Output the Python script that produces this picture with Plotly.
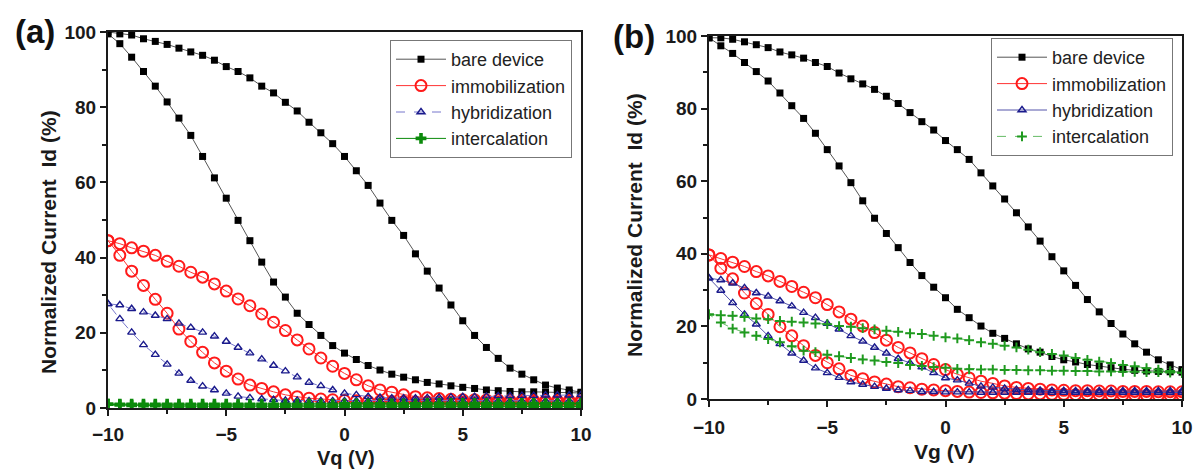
import plotly.graph_objects as go

# ---------------- data ----------------
vg = [-10 + 0.5 * i for i in range(41)]

series_names = ["bare device", "immobilization", "hybridization", "intercalation"]

# Panel (a): upper (one sweep) and lower (other sweep) branches, values in %
a_bare_up = [100, 99.5, 99.2, 98.2, 97.5, 96.7, 95.7, 94.7, 93.8, 92.5, 90.8, 89.5, 87.8,
             85.6, 83.8, 81.3, 79.0, 76.0, 73.2, 70.3, 66.9, 63.1, 59.2, 54.5, 49.9, 45.9,
             41.0, 36.4, 31.9, 27.4, 23.2, 19.3, 16.1, 13.2, 10.6, 9.0, 7.5, 6.1, 5.3, 4.8, 4.2]
a_bare_lo = [99.5, 96.9, 93.3, 89.5, 85.6, 81.4, 77.1, 72.5, 66.9, 61.2, 55.8, 49.9, 44.5,
             38.8, 33.5, 29.5, 25.2, 22.2, 19.3, 16.6, 14.6, 12.9, 11.3, 10.1, 9.0, 8.2,
             7.5, 6.8, 6.4, 5.9, 5.5, 5.2, 4.8, 4.6, 4.4, 4.3, 4.3, 4.2, 4.1, 4.1, 4.0]
a_imm_up = [44.5, 43.7, 42.6, 41.7, 40.6, 39.0, 37.7, 36.1, 34.8, 33.0, 31.1, 29.0, 27.2,
            25.0, 22.8, 20.6, 18.1, 15.7, 13.3, 11.1, 9.2, 7.5, 5.9, 4.8, 4.2, 3.5,
            3.0, 2.7, 2.5, 2.3, 2.2, 2.2, 2.1, 2.1, 2.0, 2.0, 2.0, 2.0, 2.0, 2.0, 2.0]
a_imm_lo = [44.5, 40.6, 36.4, 32.6, 28.9, 25.2, 21.0, 17.7, 14.8, 12.0, 9.8, 7.7, 6.1,
            5.2, 4.3, 3.5, 3.0, 2.6, 2.4, 2.2, 2.0, 1.9, 1.8, 1.8, 1.7, 1.7,
            1.6, 1.6, 1.6, 1.5, 1.5, 1.5, 1.5, 1.5, 1.5, 1.5, 1.5, 1.5, 1.5, 1.5, 1.5]
a_hyb_up = [27.7, 27.4, 26.4, 25.5, 24.6, 23.7, 22.5, 21.4, 20.1, 19.1, 17.7, 16.1, 14.6,
            13.0, 11.3, 9.8, 8.2, 6.8, 5.9, 4.8, 3.9, 3.5, 3.0, 2.8, 2.6, 2.6,
            2.6, 2.7, 2.8, 2.9, 3.0, 3.0, 3.1, 3.2, 3.2, 3.3, 3.3, 3.4, 3.4, 3.4, 3.5]
a_hyb_lo = [27.7, 23.7, 20.1, 16.8, 14.2, 11.6, 9.2, 7.3, 5.8, 4.8, 3.9, 3.1, 2.7,
            2.4, 2.2, 2.0, 2.0, 1.9, 1.9, 1.9, 1.9, 1.9, 1.9, 1.9, 1.9, 1.9,
            1.9, 1.9, 1.9, 1.9, 1.9, 1.9, 1.9, 1.9, 1.9, 1.9, 1.9, 1.9, 1.9, 1.9, 1.9]
a_int_up = [1.0, 1.0, 1.0, 1.0, 1.0, 1.0, 1.0, 1.0, 1.0, 1.0, 1.0, 1.0, 1.0,
            1.0, 1.0, 1.0, 1.0, 1.0, 1.0, 1.0, 1.1, 1.1, 1.1, 1.1, 1.1, 1.1,
            1.1, 1.2, 1.2, 1.2, 1.2, 1.2, 1.2, 1.2, 1.2, 1.2, 1.2, 1.2, 1.2, 1.2, 1.2]
a_int_lo = [1.0, 0.8, 0.7, 0.6, 0.6, 0.5, 0.5, 0.5, 0.5, 0.5, 0.5, 0.5, 0.4,
            0.4, 0.4, 0.4, 0.4, 0.4, 0.4, 0.4, 0.4, 0.4, 0.4, 0.4, 0.4, 0.4,
            0.4, 0.4, 0.4, 0.4, 0.4, 0.4, 0.4, 0.4, 0.4, 0.4, 0.4, 0.4, 0.4, 0.4, 0.4]

# Panel (b)
b_bare_up = [99.5, 99.5, 99.1, 98.4, 97.6, 96.8, 95.6, 94.8, 93.9, 92.7, 91.6, 89.8, 88.2,
             86.8, 85.3, 83.4, 81.4, 78.9, 76.4, 74.1, 71.2, 68.7, 66.0, 62.3, 58.7, 55.1,
             51.3, 47.4, 43.5, 39.2, 35.3, 31.3, 27.4, 24.0, 20.8, 17.9, 15.2, 12.9, 10.8, 9.4, 8.1]
b_bare_lo = [99.5, 97.3, 95.2, 92.7, 90.2, 87.6, 84.3, 80.8, 77.3, 73.2, 68.7, 64.2, 59.6,
             54.6, 49.8, 45.6, 41.7, 37.6, 34.0, 30.8, 27.9, 24.7, 22.4, 20.1, 18.1, 16.7,
             15.2, 13.8, 12.9, 11.7, 10.8, 10.2, 9.5, 9.1, 8.6, 8.2, 7.9, 7.7, 7.6, 7.5, 7.4]
b_imm_up = [39.7, 38.7, 37.7, 36.5, 35.1, 33.9, 32.4, 31.0, 29.4, 27.9, 26.0, 24.0, 22.0,
            20.1, 18.3, 16.2, 14.2, 12.7, 11.1, 9.5, 8.1, 6.8, 5.8, 4.9, 4.3, 3.6,
            3.2, 2.9, 2.7, 2.5, 2.4, 2.3, 2.3, 2.2, 2.2, 2.1, 2.1, 2.1, 2.0, 2.0, 2.0]
b_imm_lo = [39.7, 36.0, 33.1, 29.2, 26.3, 23.3, 19.9, 17.4, 14.7, 12.0, 10.0, 8.3, 6.5,
            5.6, 4.7, 4.1, 3.4, 3.1, 2.7, 2.5, 2.3, 2.1, 1.9, 1.8, 1.7, 1.6,
            1.5, 1.4, 1.4, 1.3, 1.3, 1.2, 1.2, 1.2, 1.1, 1.1, 1.1, 1.0, 1.0, 1.0, 1.0]
b_hyb_up = [33.3, 32.8, 31.9, 30.6, 29.2, 28.3, 27.0, 25.6, 23.8, 22.4, 20.8, 19.2, 17.4,
            15.9, 14.2, 12.6, 11.1, 9.9, 8.8, 7.2, 5.8, 5.2, 4.3, 3.5, 3.2, 2.9,
            2.6, 2.5, 2.4, 2.3, 2.3, 2.2, 2.2, 2.2, 2.2, 2.2, 2.2, 2.2, 2.2, 2.2, 2.2]
b_hyb_lo = [33.3, 29.9, 26.5, 23.3, 20.6, 17.4, 15.2, 12.6, 10.6, 8.5, 7.2, 5.9, 4.7,
            4.0, 3.4, 2.9, 2.5, 2.3, 2.0, 2.0, 1.9, 1.9, 1.9, 1.8, 1.8, 1.8,
            1.8, 1.8, 1.8, 1.8, 1.8, 1.8, 1.8, 1.8, 1.8, 1.8, 1.8, 1.8, 1.8, 1.8, 1.8]
b_int_up = [23.3, 23.1, 22.9, 22.6, 22.2, 22.0, 21.5, 21.3, 21.1, 20.8, 20.6, 20.1, 19.9,
            19.5, 19.2, 18.8, 18.5, 18.1, 17.9, 17.4, 17.0, 16.7, 16.2, 15.6, 15.2, 14.7,
            14.2, 13.6, 12.9, 12.4, 12.0, 11.3, 10.8, 10.3, 9.9, 9.4, 9.0, 8.5, 8.1, 7.7, 7.2]
b_int_lo = [23.3, 21.1, 19.4, 18.3, 17.4, 16.5, 15.6, 14.5, 13.3, 12.9, 12.2, 11.8, 11.3,
            10.9, 10.6, 10.2, 9.9, 9.4, 9.1, 8.8, 8.6, 8.3, 8.2, 8.1, 8.1, 8.0,
            8.0, 7.9, 7.9, 7.8, 7.8, 7.7, 7.7, 7.6, 7.6, 7.5, 7.5, 7.4, 7.4, 7.3, 7.2]

panel_a = [(a_bare_up, a_bare_lo), (a_imm_up, a_imm_lo), (a_hyb_up, a_hyb_lo), (a_int_up, a_int_lo)]
panel_b = [(b_bare_up, b_bare_lo), (b_imm_up, b_imm_lo), (b_hyb_up, b_hyb_lo), (b_int_up, b_int_lo)]

x_ticks = [-10, -5, 0, 5, 10]
y_ticks = [0, 20, 40, 60, 80, 100]

# ---------------- styles ----------------
FONT = "Liberation Sans, Arial, sans-serif"
styles_a = [
    dict(marker=dict(symbol="square", size=7, color="black"),
         line=dict(color="#555555", width=1)),
    dict(marker=dict(symbol="circle-open", size=11, color="#ff1a1a", line=dict(width=2)),
         line=dict(color="#ff3333", width=1)),
    dict(marker=dict(symbol="triangle-up-open", size=7, color="#1a1a8c", line=dict(width=1.4)),
         line=dict(color="#7777cc", width=1, dash="dash")),
    dict(marker=dict(symbol="cross", size=9, color="#0b8a0b"),
         line=dict(color="#0b8a0b", width=1)),
]
styles_b = [
    dict(marker=dict(symbol="square", size=7, color="black"),
         line=dict(color="#555555", width=1)),
    dict(marker=dict(symbol="circle-open", size=11, color="#ff1a1a", line=dict(width=2)),
         line=dict(color="#ff3333", width=1)),
    dict(marker=dict(symbol="triangle-up-open", size=7, color="#1a1a8c", line=dict(width=1.4)),
         line=dict(color="#5555aa", width=1)),
    dict(marker=dict(symbol="cross-thin-open", size=7, color="#1f9a1f", line=dict(width=2, color="#1f9a1f")),
         line=dict(color="#66bb66", width=1, dash="dash")),
]

fig = go.Figure()
for panel, styles, xa, ya, lg in [(panel_a, styles_a, "x", "y", "legend"),
                                  (panel_b, styles_b, "x2", "y2", "legend2")]:
    for name, (up, lo), st in zip(series_names, panel, styles):
        fig.add_trace(go.Scatter(
            x=vg + vg[::-1], y=up + lo[::-1], mode="lines+markers", name=name,
            xaxis=xa, yaxis=ya, legend=lg, **st))

W, H = 1193, 469
def px_x(p):
    return p / W
def px_y(p):
    return 1 - p / H

axis_common = dict(showline=True, linewidth=2, linecolor="#1a1a1a", mirror=True,
                   ticks="outside", ticklen=6, tickwidth=2, tickcolor="#1a1a1a",
                   showgrid=False, zeroline=False, automargin=False,
                   tickfont=dict(family=FONT, size=19, color="#1a1a1a", weight="bold"))

legend_common = dict(xanchor="right", yanchor="top",
                     bordercolor="#777777", borderwidth=1, bgcolor="white",
                     font=dict(family=FONT, size=18, color="#222222"), itemwidth=50,
                     tracegroupgap=0)

fig.update_layout(
    width=W, height=H, margin=dict(l=0, r=0, t=0, b=0, autoexpand=False),
    paper_bgcolor="white", plot_bgcolor="white",
    xaxis=dict(domain=[px_x(108), px_x(581)], range=[-10, 10], tickvals=x_ticks,
               minor=dict(ticks="outside", ticklen=4, tickwidth=2, dtick=2.5, tickcolor="#1a1a1a"),
               anchor="y", ticklabelstandoff=2, **axis_common),
    yaxis=dict(domain=[px_y(408), px_y(32)], range=[0, 100], tickvals=y_ticks,
               minor=dict(ticks="outside", ticklen=4, tickwidth=2, dtick=10, tickcolor="#1a1a1a"),
               anchor="x", **axis_common),
    xaxis2=dict(domain=[px_x(709), px_x(1182)], range=[-10, 10], tickvals=x_ticks,
                minor=dict(ticks="outside", ticklen=4, tickwidth=2, dtick=2.5, tickcolor="#1a1a1a"),
                anchor="y2", ticklabelstandoff=4, **axis_common),
    yaxis2=dict(domain=[px_y(399), px_y(36)], range=[0, 100], tickvals=y_ticks,
                minor=dict(ticks="outside", ticklen=4, tickwidth=2, dtick=10, tickcolor="#1a1a1a"),
                anchor="x2", **axis_common),
    legend=dict(x=px_x(572), y=px_y(40), **legend_common),
    legend2=dict(x=px_x(1173), y=px_y(38), **legend_common),
    showlegend=True,
)

title_font = dict(family=FONT, size=21, color="#1a1a1a", weight="bold")
annos = [
    dict(text="(a)", x=px_x(35), y=px_y(32), font=dict(family=FONT, size=33, color="#111", weight="bold")),
    dict(text="(b)", x=px_x(634), y=px_y(36), font=dict(family=FONT, size=33, color="#111", weight="bold")),
    dict(text="Normalized Current  Id (%)", x=px_x(48), y=px_y(242), textangle=-90, font=title_font),
    dict(text="Normalized Current  Id (%)", x=px_x(634), y=px_y(225), textangle=-90, font=title_font),
    dict(text="Vq (V)", x=px_x(346), y=px_y(458), font=dict(family=FONT, size=20, color="#1a1a1a", weight="bold")),
    dict(text="Vg (V)", x=px_x(944), y=px_y(451), font=title_font),
]
for a in annos:
    fig.add_annotation(xref="paper", yref="paper", xanchor="center", yanchor="middle",
                       showarrow=False, **a)

fig.write_html("out.html")
